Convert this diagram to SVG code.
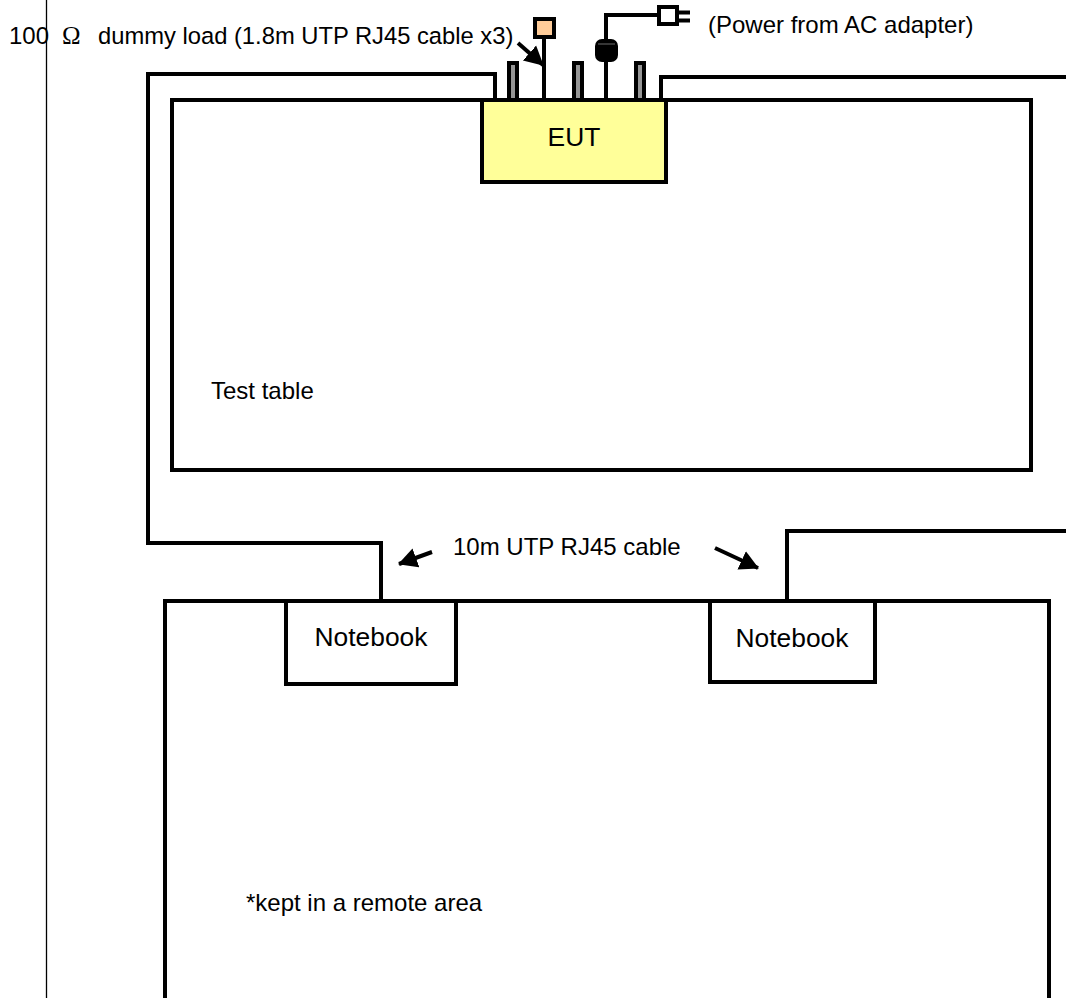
<svg xmlns="http://www.w3.org/2000/svg" width="1066" height="998" viewBox="0 0 1066 998">
<defs>
<marker id="ah" markerUnits="userSpaceOnUse" markerWidth="22" markerHeight="22" refX="18" refY="11" orient="auto"><path d="M0 1L19 11L0 21Z" fill="#000"/></marker>
</defs>
<style>
text{font-family:"Liberation Sans",Arial,sans-serif;fill:#000;font-size:24px}
.om{font-family:"Liberation Serif","Times New Roman",serif;font-size:25px}
.d{font-size:23.75px}
.b{fill:none;stroke:#000;stroke-width:4}
.w{fill:#fff;stroke:#000;stroke-width:4}
.a{fill:none;stroke:#000;stroke-width:4;marker-end:url(#ah)}
.c{fill:#969696;stroke:#000;stroke-width:4}
.lg{font-size:26.4px}
</style>
<rect width="1066" height="998" fill="#fff"/>
<line x1="46.5" y1="0" x2="46.5" y2="998" stroke="#000" stroke-width="1.3"/>
<g id="test-table"><rect class="b" x="172" y="100" width="859" height="370"/><text x="211" y="399">Test table</text></g>
<g id="remote-area"><path class="b" d="M165 1000V601H1049V1000"/><text x="246" y="911">*kept in a remote area</text></g>
<g id="connectors">
<path class="b" d="M495 100V74H148V543H381V601"/>
<path class="b" d="M661 100V77H1066"/>
<path class="b" d="M1066 531H787V601"/>
<path class="b" d="M544 36V100"/>
<path class="b" d="M606 100V15H658"/>
<path class="a" d="M518 43L543 65"/>
<path class="a" d="M432 552L399 564"/>
<path class="a" d="M715 548L758 568"/>
</g>
<g id="port1"><rect class="c" x="509" y="63" width="8" height="37"/></g>
<g id="port2"><rect class="c" x="574" y="63" width="8" height="37"/></g>
<g id="port3"><rect class="c" x="636" y="63" width="8" height="37"/></g>
<g id="eut"><rect x="482" y="100" width="184" height="82" fill="#ffff99" stroke="#000" stroke-width="4"/><text class="lg" x="574" y="146" text-anchor="middle">EUT</text></g>
<g id="dummy-load"><rect x="535" y="19" width="19" height="18" fill="#ffcc99" stroke="#000" stroke-width="4"/></g>
<g id="ferrite"><rect x="595" y="39" width="23" height="23" rx="7" fill="#000"/><path d="M598 44H615" stroke="#888" stroke-width="0.8"/></g>
<g id="plug"><rect class="w" x="659" y="7" width="18" height="17"/><path d="M677 12.500H690M677 20.500H690" stroke="#000" stroke-width="4" fill="none"/></g>
<g id="notebook1"><rect class="w" x="286" y="601" width="170" height="83"/><text class="lg" x="371" y="646" text-anchor="middle">Notebook</text></g>
<g id="notebook2"><rect class="w" x="710" y="601" width="165" height="81"/><text class="lg" x="792" y="647" text-anchor="middle">Notebook</text></g>
<text x="9" y="44">100</text>
<text class="om" x="62" y="44">Ω</text>
<text class="d" x="98" y="44">dummy load (1.8m UTP RJ45 cable x3)</text>
<text x="708" y="33">(Power from AC adapter)</text>
<text x="453" y="555">10m UTP RJ45 cable</text>
</svg>
